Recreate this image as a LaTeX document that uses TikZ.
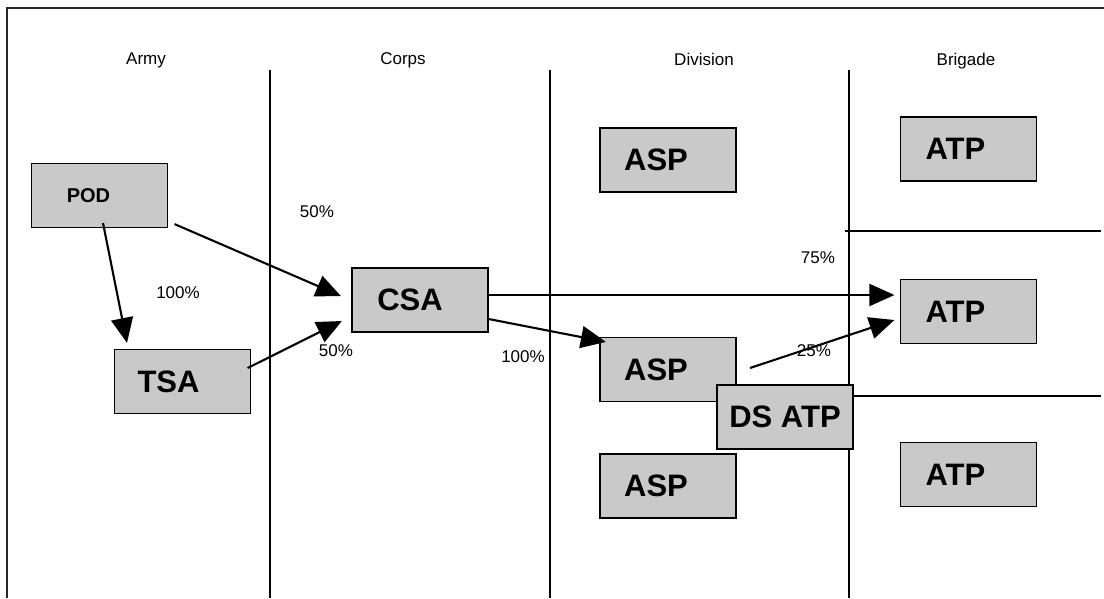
\documentclass[tikz,border=0pt]{standalone}
\usepackage{fontspec}
\setmainfont{Liberation Sans}
\usetikzlibrary{arrows.meta}
\begin{document}
\begin{tikzpicture}[x=1pt,y=-1pt,
  frameline/.style={line width=1.3pt,black!85},
  sepline/.style={line width=1.2pt,black},
  unitbox/.style={draw=black,line width=1.2pt,fill=gray!42,minimum width=136pt,minimum height=64pt,inner sep=0pt},
  bigtxt/.style={font=\fontsize{31}{35}\selectfont\bfseries},
  smalltxt/.style={font=\fontsize{20}{24}\selectfont\bfseries},
  lbl/.style={font=\fontsize{17}{20}\selectfont,inner sep=0pt},
  flow/.style={line width=2.1pt,-{Triangle[length=25pt,width=22pt]}}]
\useasboundingbox (0,0) rectangle (1104,598);
% frame and column separators
\draw[frameline] (7,598) -- (7,8) -- (1104,8);
\draw[sepline] (270,70) -- (270,598);
\draw[sepline] (550,70) -- (550,598);
\draw[sepline] (849,70) -- (849,598);
\draw[sepline] (845,231) -- (1101,231);
\draw[sepline] (853,396) -- (1101,396);
% column headings
\node[lbl] (hArmy) at (146,60) {Army};
\node[lbl] (hCorps) at (403,60) {Corps};
\node[lbl] (hDiv) at (704,59) {Division};
\node[lbl] (hBde) at (966,61) {Brigade};
% boxes
\node[unitbox,label={[smalltxt,xshift=-11pt]center:POD}] (pod) at (99.5,195.5) {};
\node[unitbox,label={[bigtxt,xshift=-14pt]center:TSA}] (tsa) at (182.5,381.5) {};
\node[unitbox,label={[bigtxt,xshift=-10pt]center:CSA}] (csa) at (420,300) {};
\node[unitbox,label={[bigtxt,xshift=-12pt]center:ASP}] (asp1) at (668,160) {};
\node[unitbox,label={[bigtxt,xshift=-12pt]center:ASP}] (asp2) at (668,369.5) {};
\node[unitbox,label={[bigtxt,xshift=-12pt]center:ASP}] (asp3) at (668,486) {};
\node[unitbox,label={[bigtxt]center:DS ATP}] (dsatp) at (785,417) {};
\node[unitbox,label={[bigtxt,xshift=-13pt]center:ATP}] (atp1) at (968.5,149) {};
\node[unitbox,label={[bigtxt,xshift=-13pt]center:ATP}] (atp2) at (968.5,311.5) {};
\node[unitbox,label={[bigtxt,xshift=-13pt]center:ATP}] (atp3) at (968.5,474.5) {};
% connectors
\coordinate (dsout) at (750,368);
\draw[flow] ([xshift=6.5pt,yshift=4pt]pod.south east) -- ([xshift=-10.5pt,yshift=4pt]csa.west);
\draw[flow] ([xshift=3.5pt,yshift=5pt]pod.south) -- ([xshift=-55.5pt,yshift=6pt]tsa.north);
\draw[flow] ([xshift=-3.5pt,yshift=13.5pt]tsa.east) -- ([xshift=-9.5pt,yshift=-21pt]csa.west);
\draw[flow] ([yshift=5pt]csa.east) -- ([xshift=-5.5pt,yshift=16.5pt]atp2.west);
\draw[flow] ([yshift=-19pt]csa.east) -- ([xshift=6.5pt,yshift=-5pt]asp2.north west);
\draw[flow] (dsout) -- ([xshift=-5.5pt,yshift=-8.5pt]atp2.west);
% percentages
\node[lbl] (p1) at (317,212) {50\%};
\node[lbl] (p2) at (178,293) {100\%};
\node[lbl] (p3) at (336,351) {50\%};
\node[lbl] (p4) at (523,357) {100\%};
\node[lbl] (p5) at (818,258) {75\%};
\node[lbl] (p6) at (814,351) {25\%};
\end{tikzpicture}
\end{document}
